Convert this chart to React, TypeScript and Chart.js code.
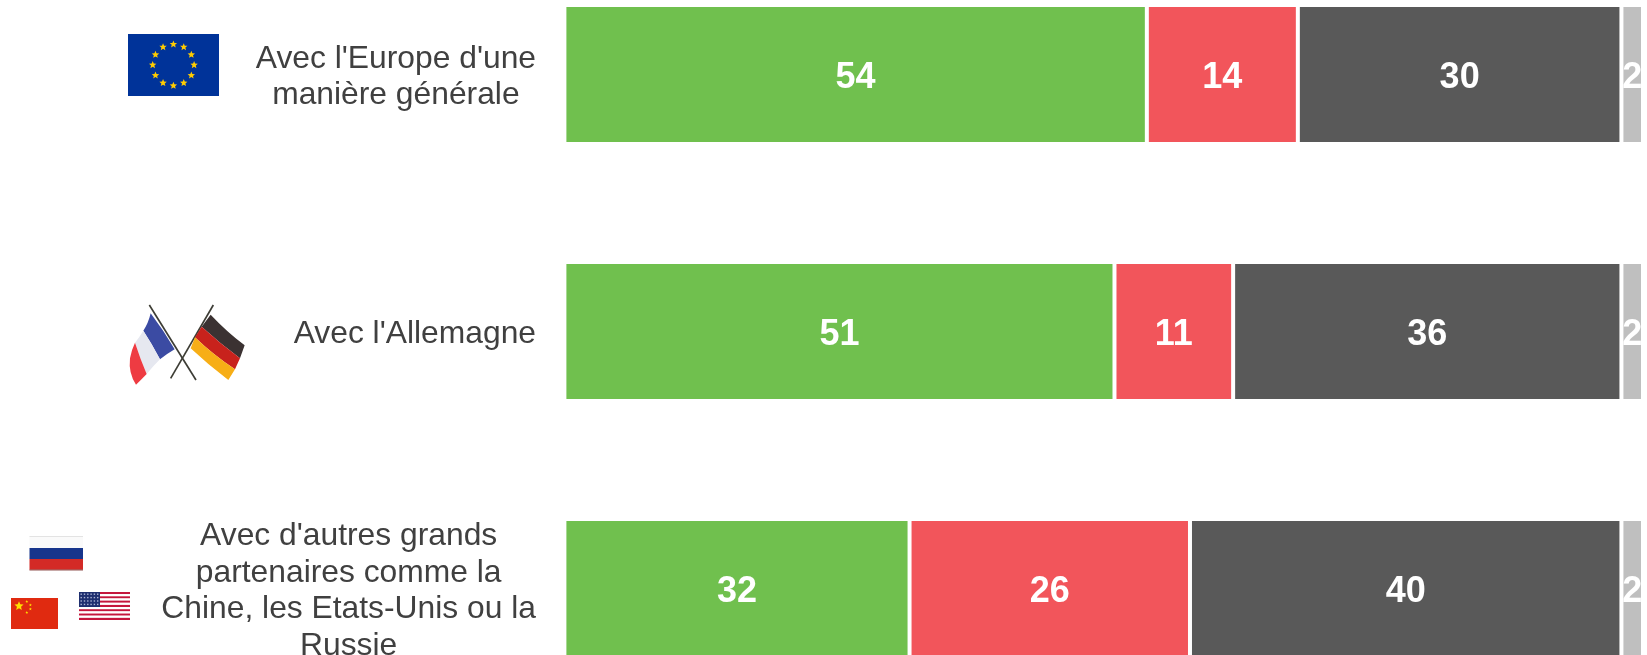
import React, { useEffect, useRef } from "react";
import { Chart, registerables } from "chart.js";

Chart.register(...registerables);

const categories: string[][] = [
  ["Avec l'Europe d'une", "manière générale"],
  ["Avec l'Allemagne"],
  ["Avec d'autres grands", "partenaires comme la", "Chine, les Etats-Unis ou la", "Russie"],
];
const seriesGreen = [54, 51, 32];
const seriesRed = [14, 11, 26];
const seriesDark = [30, 36, 40];
const seriesGray = [2, 2, 2];

const GREEN = "#70C04E";
const RED = "#F2555B";
const DARK = "#595959";
const GRAY = "#BFBFBF";

const valueLabels = {
  id: "valueLabels",
  afterDatasetsDraw(chart: any) {
    const { ctx } = chart;
    ctx.save();
    ctx.font = 'bold 36px "Liberation Sans"';
    ctx.fillStyle = "#FFFFFF";
    ctx.textAlign = "center";
    ctx.textBaseline = "middle";
    chart.data.datasets.forEach((ds: any, i: number) => {
      chart.getDatasetMeta(i).data.forEach((bar: any, j: number) => {
        const p = bar.getProps(["x", "y", "base"], true);
        ctx.fillText(String(ds.data[j]), (p.x + p.base) / 2, p.y + 3.5);
      });
    });
    ctx.restore();
  },
};

const categoryLabels = {
  id: "categoryLabels",
  afterDraw(chart: any) {
    const { ctx, scales } = chart;
    const y = scales.y;
    const right = 536;
    const lineHeight = 36.8;
    ctx.save();
    ctx.font = '31.8px "Liberation Sans"';
    ctx.fillStyle = "#404040";
    ctx.textAlign = "center";
    ctx.textBaseline = "middle";
    categories.forEach((lines, i) => {
      const widest = Math.max(...lines.map((l) => ctx.measureText(l).width));
      const cx = right - widest / 2;
      const cy = y.getPixelForTick(i) + 2.8;
      lines.forEach((line, k) => {
        ctx.fillText(line, cx, cy + (k - (lines.length - 1) / 2) * lineHeight);
      });
    });
    ctx.restore();
  },
};

function star(cx: number, cy: number, r: number) {
  const pts: string[] = [];
  for (let i = 0; i < 10; i++) {
    const a = -Math.PI / 2 + (i * Math.PI) / 5;
    const rr = i % 2 === 0 ? r : r * 0.45;
    pts.push(`${(cx + rr * Math.cos(a)).toFixed(2)},${(cy + rr * Math.sin(a)).toFixed(2)}`);
  }
  return pts.join(" ");
}

const euStars = Array.from({ length: 12 }, (_, i) => i);
const usStripes = Array.from({ length: 13 }, (_, i) => i);

function Flags() {
  return (
    <svg
      width={1647}
      height={655}
      style={{ position: "absolute", left: 0, top: 0, pointerEvents: "none" }}
    >
      <defs>
        <filter id="soft" x="-5%" y="-5%" width="110%" height="110%">
          <feGaussianBlur stdDeviation="1.4" />
        </filter>
      </defs>

      {/* EU */}
      <rect x={128} y={34} width={91} height={62} fill="#003399" />
      {euStars.map((i) => {
        const a = (i * Math.PI) / 6;
        return (
          <polygon
            key={i}
            points={star(173.4 + 20.7 * Math.cos(a), 65 + 20.7 * Math.sin(a), 3.9)}
            fill="#FFCC00"
          />
        );
      })}

      {/* France / Germany */}
      <g transform="translate(100 280) scale(0.3333)" filter="url(#soft)">
        <line x1={148} y1={75} x2={288} y2={300} stroke="#3c3c34" strokeWidth={5} />
        <line x1={340} y1={75} x2={212} y2={295} stroke="#3c3c34" strokeWidth={5} />
        <path d="M152 100 Q190 150 224 208 Q200 222 180 238 Q155 190 130 152 Q145 130 152 100Z" fill="#3B4BA3" />
        <path d="M130 152 Q155 190 180 238 Q160 258 140 282 Q122 240 105 188 Q118 172 130 152Z" fill="#E6E8F0" />
        <path d="M105 188 Q122 240 140 282 Q125 298 108 314 Q85 280 90 235 Q95 208 105 188Z" fill="#EE3B42" />
        <path d="M332 104 Q380 155 434 196 L420 235 Q360 190 305 140Z" fill="#3A3230" />
        <path d="M305 140 Q360 190 420 235 L405 268 Q340 225 285 172Z" fill="#C8201C" />
        <path d="M285 172 Q340 225 405 268 L385 300 Q325 255 272 205Z" fill="#F7AE14" />
      </g>

      {/* Russia */}
      <rect x={29.5} y={536} width={53.5} height={12} fill="#FAFAFA" />
      <rect x={29.5} y={536} width={53.5} height={0.7} fill="#D8D8D8" />
      <rect x={29.5} y={548} width={53.5} height={11} fill="#17358C" />
      <rect x={29.5} y={559} width={53.5} height={11.3} fill="#D32A26" />
      <rect x={29.5} y={569.6} width={53.5} height={0.8} fill="#8A8A8A" />

      {/* China */}
      <rect x={11} y={598} width={47} height={31} fill="#E02A10" />
      <polygon points={star(19, 606, 4.8)} fill="#FFDE00" />
      <polygon points={star(26.8, 601.5, 1.5)} fill="#FFDE00" />
      <polygon points={star(30.4, 605, 1.5)} fill="#FFDE00" />
      <polygon points={star(30.4, 609, 1.5)} fill="#FFDE00" />
      <polygon points={star(26.8, 612.5, 1.5)} fill="#FFDE00" />

      {/* USA */}
      {usStripes.map((i) => (
        <rect
          key={i}
          x={79}
          y={592 + (i * 28) / 13}
          width={51}
          height={28 / 13}
          fill={i % 2 === 0 ? "#C4163C" : "#FFFFFF"}
        />
      ))}
      <rect x={79} y={592} width={21} height={15} fill="#1F2F6F" />
      {[0, 1, 2, 3].map((r) =>
        [0, 1, 2, 3, 4, 5].map((c) => (
          <rect
            key={`${r}-${c}`}
            x={80.5 + c * 3.3}
            y={593.5 + r * 3.4}
            width={1.4}
            height={1.4}
            fill="#AEB6D4"
          />
        ))
      )}
    </svg>
  );
}

export default function App() {
  const ref = useRef<HTMLCanvasElement>(null);

  useEffect(() => {
    if (!ref.current) return;
    const common = {
      borderColor: "#FFFFFF",
      borderWidth: 2,
      borderSkipped: false,
      categoryPercentage: 1,
      barPercentage: 0.541,
    };
    const chart = new Chart(ref.current, {
      type: "bar",
      data: {
        labels: categories.map((c) => c.join(" ")),
        datasets: [
          { label: "Vert", data: seriesGreen, backgroundColor: GREEN, ...common },
          { label: "Rouge", data: seriesRed, backgroundColor: RED, ...common },
          { label: "Gris foncé", data: seriesDark, backgroundColor: DARK, ...common },
          { label: "Gris clair", data: seriesGray, backgroundColor: GRAY, ...common },
        ],
      } as any,
      options: {
        indexAxis: "y",
        animation: false,
        responsive: false,
        layout: { padding: { left: 564.4, right: 4, top: 0, bottom: 0 } },
        scales: {
          x: { stacked: true, min: 0, max: 100, display: false },
          y: { stacked: true, display: false },
        },
        plugins: { legend: { display: false }, tooltip: { enabled: false }, title: { display: false } },
      } as any,
      plugins: [valueLabels, categoryLabels],
    });
    return () => chart.destroy();
  }, []);

  return (
    <div
      style={{
        position: "fixed",
        left: 0,
        top: 0,
        width: 1647,
        height: 655,
        overflow: "hidden",
        background: "#FFFFFF",
      }}
    >
      <canvas
        ref={ref}
        width={1647}
        height={771}
        style={{ position: "absolute", left: 0, top: -54, width: 1647, height: 771, display: "block" }}
      />
      <Flags />
    </div>
  );
}
